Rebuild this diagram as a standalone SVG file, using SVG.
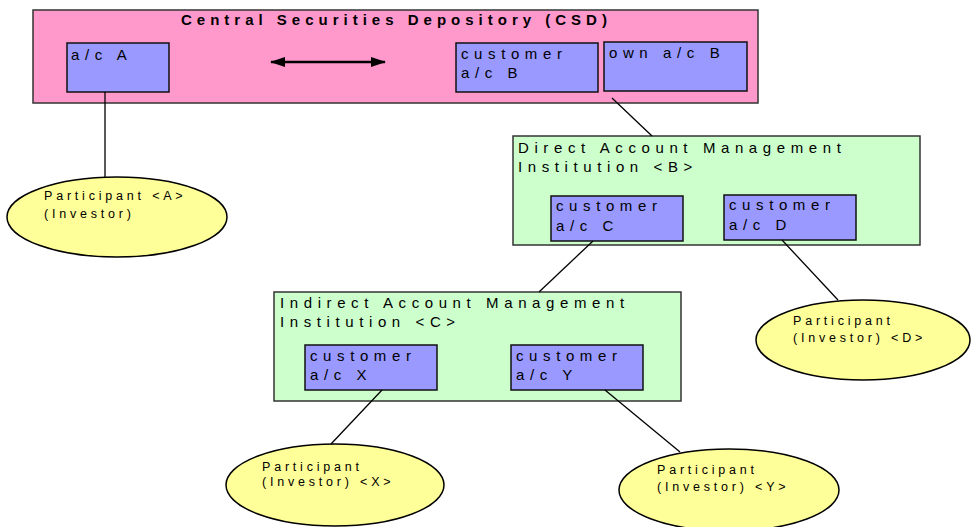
<svg xmlns="http://www.w3.org/2000/svg" width="971" height="527" viewBox="0 0 971 527">
<style>
.t{font-family:"Liberation Sans",Arial,sans-serif;font-size:15px;letter-spacing:5.6px;fill:#000}
.title{font-family:"Liberation Sans",Arial,sans-serif;font-size:15px;font-weight:bold;letter-spacing:5px;fill:#000}
.p{font-family:"Liberation Sans",Arial,sans-serif;font-size:12.5px;letter-spacing:3.8px;fill:#000}
.outer{stroke:#333;stroke-width:1.5}
.acc{fill:#9999FF;stroke:#111;stroke-width:1.5}
.ell{fill:#FFFF99;stroke:#000;stroke-width:1.5}
.conn line{stroke:#000;stroke-width:1.3}
.conn line.arrow{stroke-width:2.5}
</style>
<defs>
<marker id="ah" markerWidth="15" markerHeight="10" refX="14" refY="5" orient="auto-start-reverse" markerUnits="userSpaceOnUse">
<path d="M0,0 L15,5 L0,10 Z" fill="#000"/>
</marker>
</defs>
<rect width="971" height="527" fill="#fff"/>

<g id="csd">
<rect class="outer" x="33" y="10" width="725" height="93" fill="#FF99CC"/>
<text class="title" x="181" y="25">Central Securities Depository (CSD)</text>
</g>
<g id="acA">
<rect class="acc" x="67" y="43" width="102" height="49"/>
<text class="t" x="71" y="60">a/c A</text>
</g>
<g id="custB">
<rect class="acc" x="456" y="43" width="142" height="49"/>
<text class="t" x="461" y="59">customer</text>
<text class="t" x="461" y="78">a/c B</text>
</g>
<g id="ownB">
<rect class="acc" x="604" y="42" width="143" height="49"/>
<text class="t" x="609" y="58">own a/c B</text>
</g>

<g id="direct">
<rect class="outer" x="513" y="136" width="407" height="109" fill="#CCFFCC"/>
<text class="t" x="518" y="152.5">Direct Account Management</text>
<text class="t" x="518" y="171.5">Institution &lt;B&gt;</text>
</g>
<g id="custC">
<rect class="acc" x="551" y="196" width="132" height="45"/>
<text class="t" x="556" y="211">customer</text>
<text class="t" x="556" y="231">a/c C</text>
</g>
<g id="custD">
<rect class="acc" x="724" y="195" width="132" height="45"/>
<text class="t" x="729" y="210">customer</text>
<text class="t" x="729" y="230">a/c D</text>
</g>

<g id="indirect">
<rect class="outer" x="274" y="292" width="407" height="109" fill="#CCFFCC"/>
<text class="t" x="280" y="307.5">Indirect Account Management</text>
<text class="t" x="280" y="326.5">Institution &lt;C&gt;</text>
</g>
<g id="custX">
<rect class="acc" x="305" y="345" width="132" height="45"/>
<text class="t" x="310" y="361">customer</text>
<text class="t" x="310" y="380">a/c X</text>
</g>
<g id="custY">
<rect class="acc" x="511" y="345" width="132" height="45"/>
<text class="t" x="516" y="361">customer</text>
<text class="t" x="516" y="380">a/c Y</text>
</g>

<g id="partA">
<ellipse class="ell" cx="117" cy="217" rx="110" ry="40"/>
<text class="p" x="44" y="200">Participant &lt;A&gt;</text>
<text class="p" x="44" y="218">(Investor)</text>
</g>
<g id="partD">
<ellipse class="ell" cx="863" cy="340" rx="107" ry="40"/>
<text class="p" x="793" y="325">Participant</text>
<text class="p" x="793" y="342">(Investor) &lt;D&gt;</text>
</g>
<g id="partX">
<ellipse class="ell" cx="335" cy="485" rx="109" ry="41"/>
<text class="p" x="262" y="470.5">Participant</text>
<text class="p" x="262" y="486">(Investor) &lt;X&gt;</text>
</g>
<g id="partY">
<ellipse class="ell" cx="729" cy="490" rx="110" ry="41"/>
<text class="p" x="657" y="474">Participant</text>
<text class="p" x="657" y="491">(Investor) &lt;Y&gt;</text>
</g>

<g id="connectors" class="conn">
<line class="arrow" x1="271" y1="62" x2="385" y2="62" marker-start="url(#ah)" marker-end="url(#ah)"/>
<line x1="105" y1="92" x2="105" y2="177"/>
<line x1="612" y1="98" x2="652" y2="136"/>
<line x1="593" y1="241" x2="539" y2="292"/>
<line x1="782" y1="240" x2="838" y2="300"/>
<line x1="382" y1="390" x2="331" y2="444"/>
<line x1="605" y1="390" x2="680" y2="452"/>
</g>
</svg>
